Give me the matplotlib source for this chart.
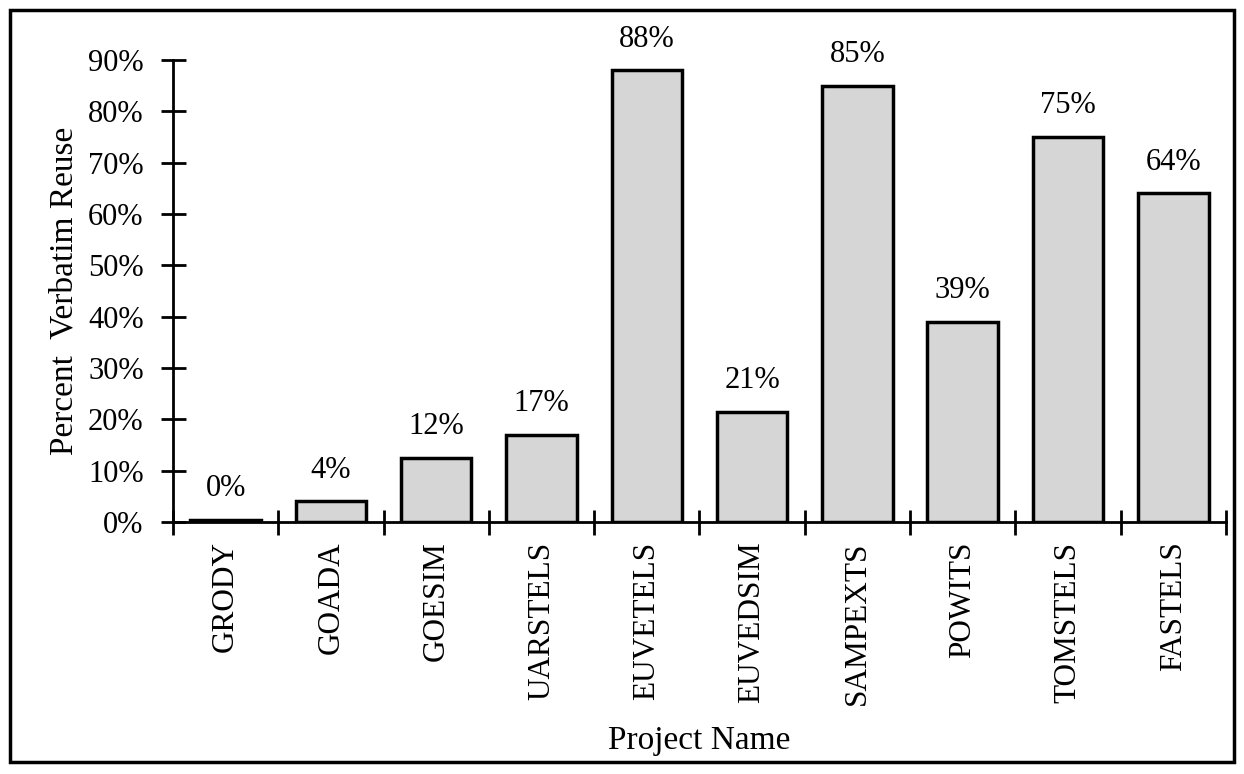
import matplotlib.pyplot as plt
import numpy as np
from matplotlib.patches import Rectangle

projects = ["GRODY", "GOADA", "GOESIM", "UARSTELS", "EUVETELS",
            "EUVEDSIM", "SAMPEXTS", "POWITS", "TOMSTELS", "FASTELS"]
reuse = [0.4, 4, 12.5, 17, 88, 21.5, 85, 39, 75, 64]
labels = ["0%", "4%", "12%", "17%", "88%", "21%", "85%", "39%", "75%", "64%"]
y_ticks = [0, 10, 20, 30, 40, 50, 60, 70, 80, 90]

plt.rcParams['font.family'] = ['Liberation Serif', 'DejaVu Serif']

fig = plt.figure(figsize=(12.44, 7.74), dpi=100)
ax = fig.add_axes([0.139, 0.3256, 0.8465, 0.597])

x = np.arange(len(projects))
ax.bar(x, reuse, width=0.67, color="#d6d6d6", edgecolor="black", linewidth=2.5, zorder=2)

for xi, v, lab in zip(x, reuse, labels):
    ax.annotate(lab, (xi, v), xytext=(0, 12), textcoords="offset points",
                ha="center", va="bottom", fontsize=22)

ax.set_xlim(-0.5, len(projects) - 0.5)
ax.set_ylim(0, 90)

ax.spines["top"].set_visible(False)
ax.spines["right"].set_visible(False)
ax.spines["left"].set_linewidth(2)
ax.spines["bottom"].set_linewidth(2)

ax.set_yticks(y_ticks)
ax.set_yticklabels([f"{t}%" for t in y_ticks], fontsize=22)
ax.tick_params(axis="y", direction="inout", length=18, width=2, pad=12)

# boundary ticks (major) and category labels (minor)
ax.set_xticks(np.arange(-0.5, len(projects), 1.0))
ax.set_xticklabels([])
ax.tick_params(axis="x", which="major", direction="inout", length=18, width=2)
ax.set_xticks(x, minor=True)
ax.set_xticklabels(projects, minor=True, rotation=90, fontsize=22.5)
ax.tick_params(axis="x", which="minor", length=0, pad=14)

ax.set_ylabel("Percent  Verbatim Reuse", fontsize=24, labelpad=6)
ax.set_xlabel("Project Name", fontsize=24, labelpad=15)

fig.patches.append(Rectangle((0.008, 0.015), 0.984, 0.972, transform=fig.transFigure,
                             fill=False, edgecolor="black", linewidth=2.5))

fig.savefig("out.png", dpi=100)
